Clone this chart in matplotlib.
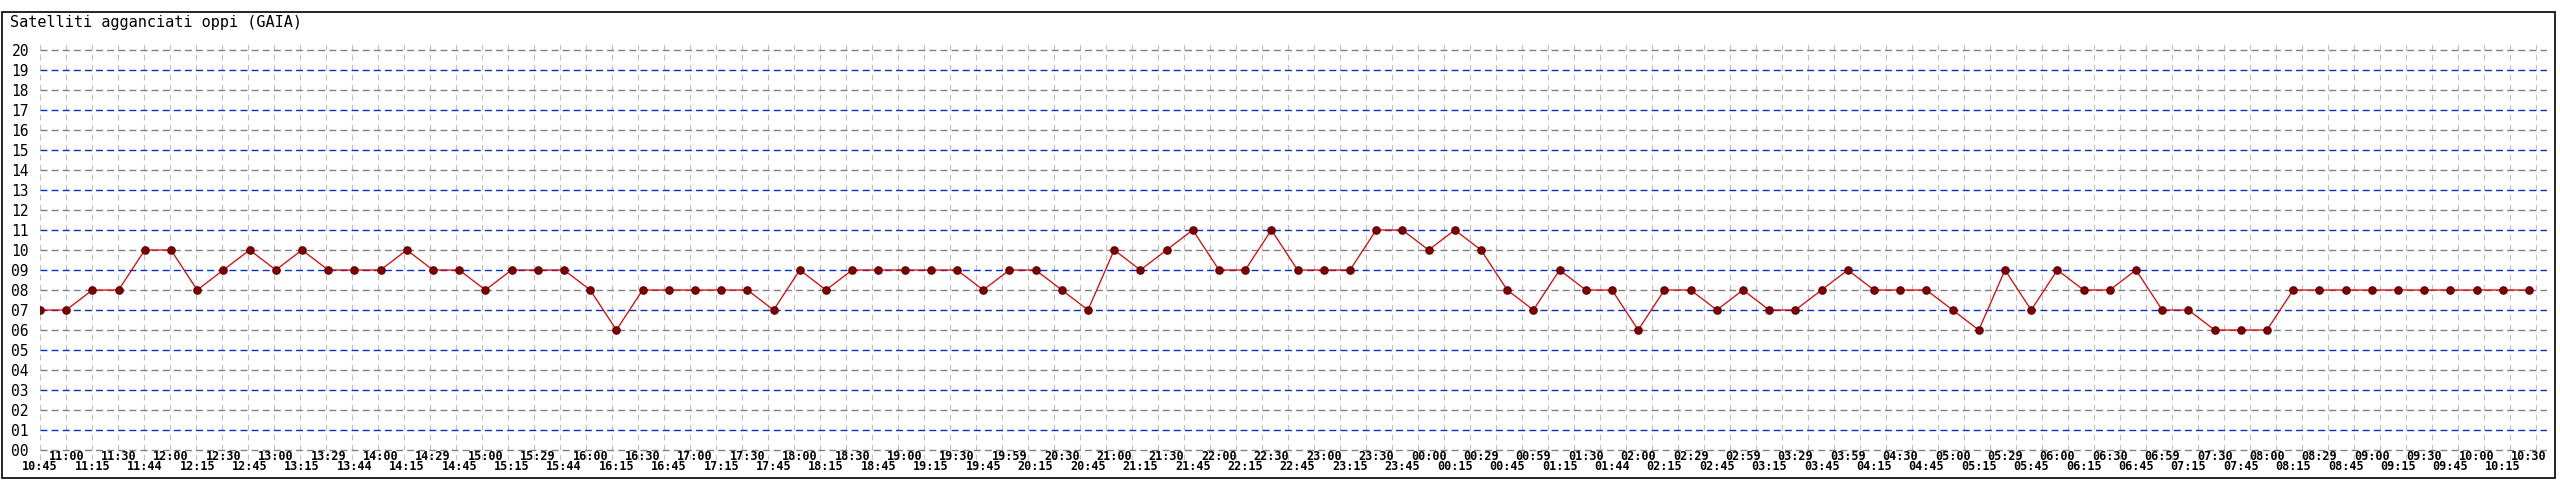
import matplotlib
matplotlib.use('Agg')
import matplotlib.pyplot as plt
from matplotlib.patches import Rectangle

# time labels (every 15 min, 10:45 -> 10:30 next day)
times = [
    "10:45", "11:00", "11:15", "11:30", "11:44", "12:00", "12:15", "12:30",
    "12:45", "13:00", "13:15", "13:29", "13:44", "14:00", "14:15", "14:29",
    "14:45", "15:00", "15:15", "15:29", "15:44", "16:00", "16:15", "16:30",
    "16:45", "17:00", "17:15", "17:30", "17:45", "18:00", "18:15", "18:30",
    "18:45", "19:00", "19:15", "19:30", "19:45", "19:59", "20:15", "20:30",
    "20:45", "21:00", "21:15", "21:30", "21:45", "22:00", "22:15", "22:30",
    "22:45", "23:00", "23:15", "23:30", "23:45", "00:00", "00:15", "00:29",
    "00:45", "00:59", "01:15", "01:30", "01:44", "02:00", "02:15", "02:29",
    "02:45", "02:59", "03:15", "03:29", "03:45", "03:59", "04:15", "04:30",
    "04:45", "05:00", "05:15", "05:29", "05:45", "06:00", "06:15", "06:30",
    "06:45", "06:59", "07:15", "07:30", "07:45", "08:00", "08:15", "08:29",
    "08:45", "09:00", "09:15", "09:30", "09:45", "10:00", "10:15", "10:30",
]

# satellites locked
satellites = [
    7, 7, 8, 8, 10, 10, 8, 9, 10, 9, 10, 9, 9, 9, 10, 9,
    9, 8, 9, 9, 9, 8, 6, 8, 8, 8, 8, 8, 7, 9, 8, 9,
    9, 9, 9, 9, 8, 9, 9, 8, 7, 10, 9, 10, 11, 9, 9, 11,
    9, 9, 9, 11, 11, 10, 11, 10, 8, 7, 9, 8, 8, 6, 8, 8,
    7, 8, 7, 7, 8, 9, 8, 8, 8, 7, 6, 9, 7, 9, 8, 8,
    9, 7, 7, 6, 6, 6, 8, 8, 8, 8, 8, 8, 8, 8, 8, 8,
]

y_ticks = list(range(0, 21))
title = "Satelliti agganciati oppi (GAIA)"

assert len(times) == len(satellites)

W, H = 2560, 480
fig = plt.figure(figsize=(W / 100, H / 100), dpi=100)
fig.patch.set_facecolor('white')

# outer frame
fig.patches.append(Rectangle((2 / W, 1 - 478 / H), 2553 / W, 466 / H,
                             transform=fig.transFigure, fill=False,
                             edgecolor='black', linewidth=1.2))
fig.text(10 / W, 1 - 23 / H, title, family='DejaVu Sans Mono',
         fontsize=11, va='center', ha='left')

ax = fig.add_axes([40 / W, 1 - 460 / H, 2507 / W, 420 / H])
n = len(satellites)
x = list(range(n))
step = 26.2  # px per point
ax.set_xlim(0, 2507 / step)
ax.set_ylim(-0.5, 20.5)
for s in ax.spines.values():
    s.set_visible(False)

# vertical grid (slightly tighter spacing than the points, as in the source)
gstep = 26.0 / step
for k in range(97):
    ax.plot([k * gstep, k * gstep], [-0.5, 20.5], color='#c0c0c0',
            lw=0.8, ls=(0, (5, 4)), zorder=1)

# horizontal grid, alternating grey / blue
for v in y_ticks:
    c = '#0030c8' if v % 2 else '#808080'
    ax.axhline(v, color=c, lw=1.0, ls=(0, (5, 3)), zorder=2)

ax.plot(x, satellites, color='#dd0000', lw=0.9, zorder=3)
ax.plot(x, satellites, ls='none', marker='o', ms=5.2,
        markerfacecolor='#800000', markeredgecolor='#660000', zorder=4)

ax.set_yticks(y_ticks)
ax.set_yticklabels([f"{v:02d}" for v in y_ticks], family='DejaVu Sans Mono',
                   fontsize=10.5)
ax.tick_params(axis='y', length=0, pad=8)
ax.set_xticks([])

# x labels staggered on two rows
for i, t in enumerate(times):
    yy = -0.85 if i % 2 == 0 else -0.35
    ax.text(i, yy, t, ha='center', va='center', family='DejaVu Sans Mono',
            fontweight='bold', fontsize=8.5, clip_on=False)

fig.savefig('out.png', dpi=100, facecolor='white')
